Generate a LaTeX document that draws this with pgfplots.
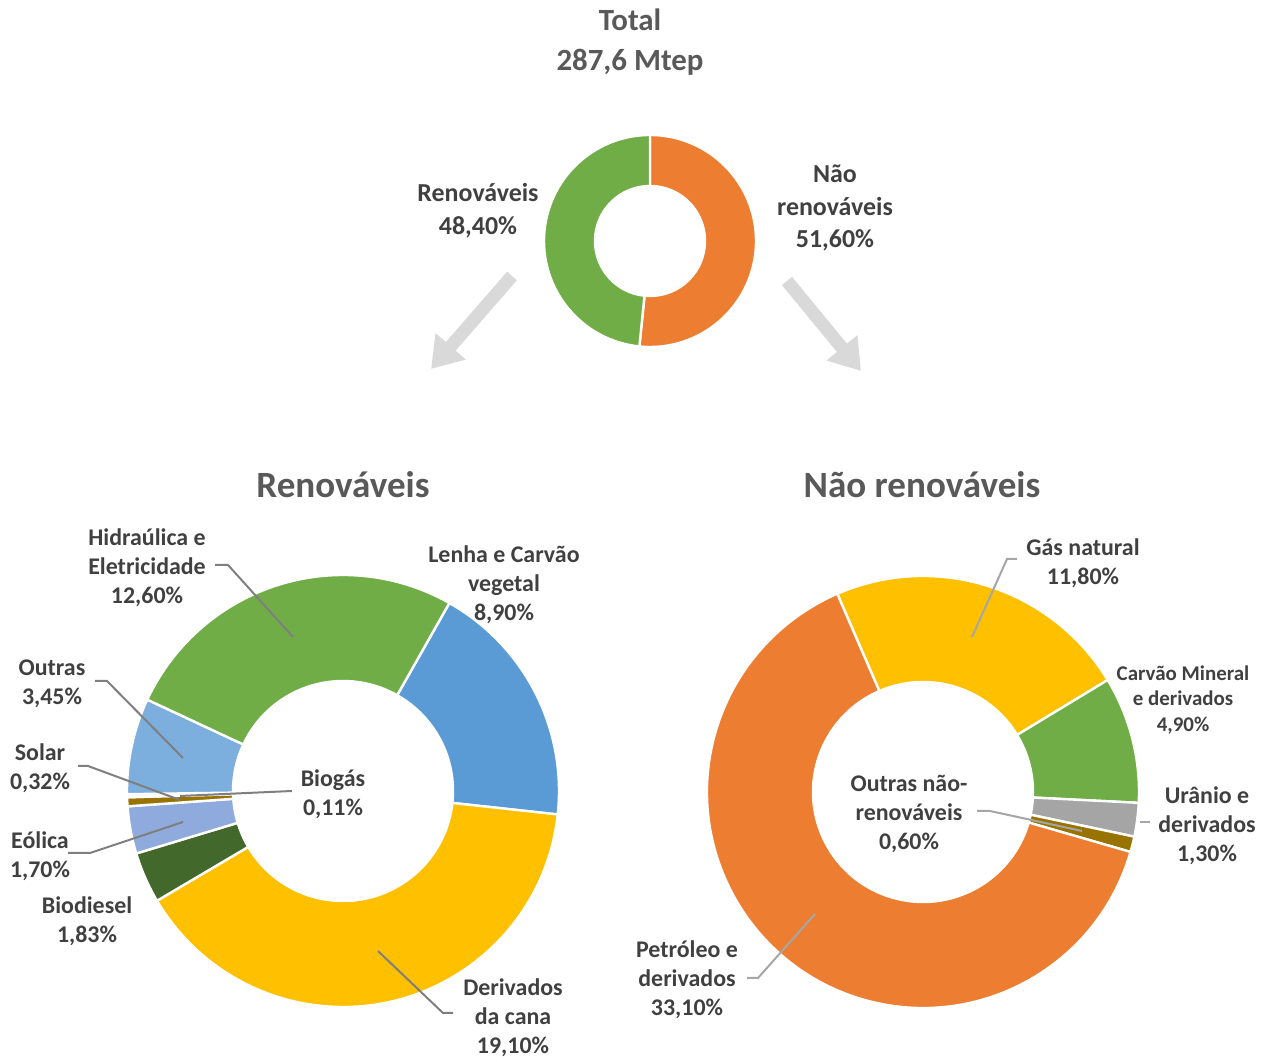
\documentclass[border=0pt]{standalone}
\usepackage{fontspec}
\setmainfont{Carlito}
\usepackage{pgfplots}
\pgfplotsset{compat=1.18}
\usetikzlibrary{arrows.meta}

\definecolor{cOrange}{HTML}{ED7D31}
\definecolor{cGreen}{HTML}{70AD47}
\definecolor{cBlue}{HTML}{5B9BD5}
\definecolor{cYellow}{HTML}{FFC000}
\definecolor{cLBlue}{HTML}{7DAFDE}
\definecolor{cViolet}{HTML}{8FAADC}
\definecolor{cDGreen}{HTML}{43682B}
\definecolor{cBrown}{HTML}{997300}
\definecolor{cBiog}{HTML}{E7E6E6}
\definecolor{cGray}{HTML}{A5A5A5}
\definecolor{cArrow}{HTML}{D9D9D9}
\definecolor{cTitle}{HTML}{595959}
\definecolor{cLab}{HTML}{404040}
\definecolor{cLead}{HTML}{7F7F7F}
\definecolor{cLeadL}{HTML}{A6A6A6}

% #1 cx (px), #2 cy (px from top), #3 R, #4 r, #5 start (deg clockwise from top),
% #6 total, #7 cumulative before, #8 value, #9 colour
\newcommand{\donutslice}[9]{%
  \pgfmathsetmacro\dsA{90-(#5)-((#7)/(#6))*360}%
  \pgfmathsetmacro\dsB{90-(#5)-(((#7)+(#8))/(#6))*360}%
  \pgfmathsetmacro\dsXa{#1+#3*cos(\dsA)}%
  \pgfmathsetmacro\dsYa{1055-(#2)+#3*sin(\dsA)}%
  \pgfmathsetmacro\dsXb{#1+#4*cos(\dsB)}%
  \pgfmathsetmacro\dsYb{1055-(#2)+#4*sin(\dsB)}%
  \pgfmathsetmacro\dsRo{#3*0.5}%
  \pgfmathsetmacro\dsRi{#4*0.5}%
  \edef\dstmp{\noexpand\fill[#9, draw=white, line width=1.2bp, line join=round]
    (axis cs:\dsXa,\dsYa)
    arc[start angle=\dsA, end angle=\dsB, radius=\dsRo bp]
    -- (axis cs:\dsXb,\dsYb)
    arc[start angle=\dsB, end angle=\dsA, radius=\dsRi bp]
    -- cycle;}%
  \dstmp}

\newcommand{\lfont}{\fontsize{12}{14.5}\selectfont\bfseries}
\newcommand{\lab}[3]{\node[align=center, text=cLab, font=\lfont, inner sep=0pt] at (axis cs:#1,#2) {#3};}

\begin{document}
\begin{tikzpicture}
\begin{axis}[x=0.5bp, y=0.5bp, xmin=0, xmax=1272, ymin=0, ymax=1055,
  enlargelimits=false, hide axis, clip=false]
\addplot[draw=none] coordinates {(0,0) (1272,1055)};

% ---- Top donut: Total 287,6 Mtep ----
\donutslice{650}{241}{106}{55}{0}{100}{0}{51.6}{cOrange}
\donutslice{650}{241}{106}{55}{0}{100}{51.6}{48.4}{cGreen}

% ---- Renováveis (total 48.01) ----
\donutslice{343}{791}{216}{110}{29.5}{48.01}{0}{8.9}{cBlue}
\donutslice{343}{791}{216}{110}{29.5}{48.01}{8.9}{19.1}{cYellow}
\donutslice{343}{791}{216}{110}{29.5}{48.01}{28.0}{1.83}{cDGreen}
\donutslice{343}{791}{216}{110}{29.5}{48.01}{29.83}{1.70}{cViolet}
\donutslice{343}{791}{216}{110}{29.5}{48.01}{31.53}{0.32}{cBrown}
\donutslice{343}{791}{216}{110}{29.5}{48.01}{31.85}{0.11}{cBiog}
\donutslice{343}{791}{216}{110}{29.5}{48.01}{31.96}{3.45}{cLBlue}
\donutslice{343}{791}{216}{110}{29.5}{48.01}{35.41}{12.6}{cGreen}

% ---- Não renováveis (total 51.7) ----
\donutslice{923}{792}{216}{110}{-23.4}{51.7}{0}{11.8}{cYellow}
\donutslice{923}{792}{216}{110}{-23.4}{51.7}{11.8}{4.9}{cGreen}
\donutslice{923}{792}{216}{110}{-23.4}{51.7}{16.7}{1.3}{cGray}
\donutslice{923}{792}{216}{110}{-23.4}{51.7}{18.0}{0.6}{cBrown}
\donutslice{923}{792}{216}{110}{-23.4}{51.7}{18.6}{33.1}{cOrange}

% ---- arrows ----
\addplot[cArrow, line width=6.5bp, -{Triangle[length=15bp, width=19bp]}] coordinates {(512,779) (431,686)};
\addplot[cArrow, line width=6.5bp, -{Triangle[length=15bp, width=19bp]}] coordinates {(787,774) (861,684)};

% ---- leader lines ----
\addplot[cLead, line width=1bp] coordinates {(215,490) (228,490) (293,418)};
\addplot[cLead, line width=1bp] coordinates {(95,374) (107,374) (183,297)};
\addplot[cLead, line width=1bp] coordinates {(78,289) (88,289) (180,255)};
\addplot[cLead, line width=1bp] coordinates {(292,264) (180,259)};
\addplot[cLead, line width=1bp] coordinates {(68,202) (90,202) (183,233)};
\addplot[cLead, line width=1bp] coordinates {(453,42) (443,42) (378,104)};
\addplot[cLeadL, line width=1bp] coordinates {(1017,496) (1007,496) (972,418)};
\addplot[cLeadL, line width=1bp] coordinates {(1140,233) (1150,233)};
\addplot[cLeadL, line width=1bp] coordinates {(977,244) (990,244) (1082,224)};
\addplot[cLeadL, line width=1bp] coordinates {(747,77) (758,77) (815,141)};

% ---- titles ----
\node[align=center, text=cTitle, font=\fontsize{15.5}{20}\selectfont\bfseries, inner sep=0pt] at (axis cs:630,1013) {Total\\287,6 Mtep};
\node[text=cTitle, font=\fontsize{18.6}{22}\selectfont\bfseries, inner sep=0pt] at (axis cs:343,570) {Renováveis};
\node[text=cTitle, font=\fontsize{18.6}{22}\selectfont\bfseries, inner sep=0pt] at (axis cs:922,570) {Não renováveis};

\node[align=center, text=cLab, font=\fontsize{13}{16.5}\selectfont\bfseries, inner sep=0pt] at (axis cs:478,844.5) {Renováveis\\48,40\%};
\node[align=center, text=cLab, font=\fontsize{13}{16.5}\selectfont\bfseries, inner sep=0pt] at (axis cs:835,847) {Não\\renováveis\\51,60\%};

% ---- slice labels ----
\lab{147}{487}{Hidraúlica e\\Eletricidade\\12,60\%}
\lab{504}{470}{Lenha e Carvão\\vegetal\\8,90\%}
\lab{52}{371}{Outras\\3,45\%}
\lab{40}{286.5}{Solar\\0,32\%}
\lab{333}{260.5}{Biogás\\0,11\%}
\lab{40}{198.5}{Eólica\\1,70\%}
\lab{87}{133.5}{Biodiesel\\1,83\%}
\lab{513}{37}{Derivados\\da cana\\19,10\%}
\lab{1083}{492}{Gás natural\\11,80\%}
\node[align=center, text=cLab, font=\fontsize{10.5}{13}\selectfont\bfseries, inner sep=0pt] at (axis cs:1183,355) {Carvão Mineral\\e derivados\\4,90\%};
\lab{1207}{229}{Urânio e\\derivados\\1,30\%}
\lab{909}{241}{Outras não-\\renováveis\\0,60\%}
\lab{687}{75}{Petróleo e\\derivados\\33,10\%}
\end{axis}
\end{tikzpicture}
\end{document}
